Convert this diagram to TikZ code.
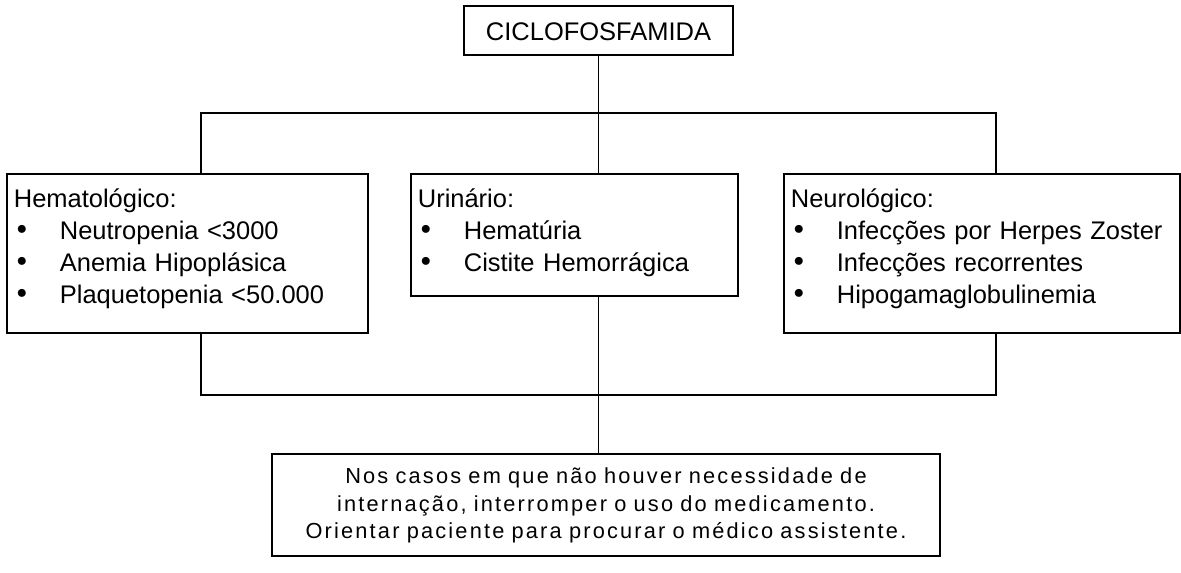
\documentclass[tikz,border=0pt]{standalone}
\usepackage{fontspec}
\setmainfont{Liberation Sans}
\newfontfamily\spacedfont[LetterSpace=10,WordSpace=2]{Liberation Sans}
\newfontfamily\bulletfont{DejaVu Sans}
\newcommand{\blt}{\makebox[0.92cm][l]{\bulletfont\fontsize{15.5}{0}\selectfont •}}

\begin{document}
\begin{tikzpicture}[
        x = 0.02cm,
        y = -0.02cm,
        line width = 1pt,
        caixa/.style = {draw, line width = 1pt, inner sep = 0pt,
            font = \fontsize{14.5}{18.1}\selectfont},
        grupo/.style = {caixa, anchor = north west, align = left,
            inner xsep = 0.14cm, text height = 0.68cm}
    ]
    \useasboundingbox (0, 0) rectangle (1181, 573);
    \node[caixa, anchor = north, minimum width = 5.38cm,
        text height = 0.70cm, text depth = 0.28cm] (ciclo) at (598.5, 5) {CICLOFOSFAMIDA};
    \node[grupo, text width = 6.94cm, text depth = 2.50cm] (hemato) at (6, 173)
        {Hematológico:\\ \blt Neutropenia <3000\\ \blt Anemia Hipoplásica\\ \blt Plaquetopenia <50.000};
    \node[grupo, text width = 6.26cm, text depth = 1.76cm] (urina) at (410, 173)
        {Urinário:\\ \blt Hematúria\\ \blt Cistite Hemorrágica};
    \node[grupo, text width = 7.64cm, text depth = 2.50cm] (neuro) at (783, 173)
        {Neurológico:\\ \blt Infecções por Herpes Zoster\\ \blt Infecções recorrentes\\ \blt Hipogamaglobulinemia};
    \node[caixa, anchor = north, align = center, text width = 12.8cm, inner xsep = 0.28cm,
        text height = 0.60cm, text depth = 1.44cm,
        font = \spacedfont\fontsize{12.4}{15.6}\selectfont] (conduta) at (606, 453)
        {Nos casos em que não houver necessidade de\\ internação, interromper o uso do medicamento.\\ Orientar paciente para procurar o médico assistente.};

    \coordinate (bus1) at (201, 113);
    \coordinate (bus2) at (996, 113);
    \coordinate (bus3) at (201, 395);
    \coordinate (bus4) at (996, 395);

    \draw (ciclo.south) -- (ciclo.south |- bus1);
    \draw (bus1 |- hemato.north) -- (bus1) -- (bus2) -- (bus2 |- neuro.north);
    \draw (ciclo.south |- bus1) -- (ciclo.south |- urina.north);
    \draw (bus3 |- hemato.south) -- (bus3) -- (bus4) -- (bus4 |- neuro.south);
    \draw (ciclo.south |- urina.south) -- (ciclo.south |- conduta.north);
\end{tikzpicture}
\end{document}
